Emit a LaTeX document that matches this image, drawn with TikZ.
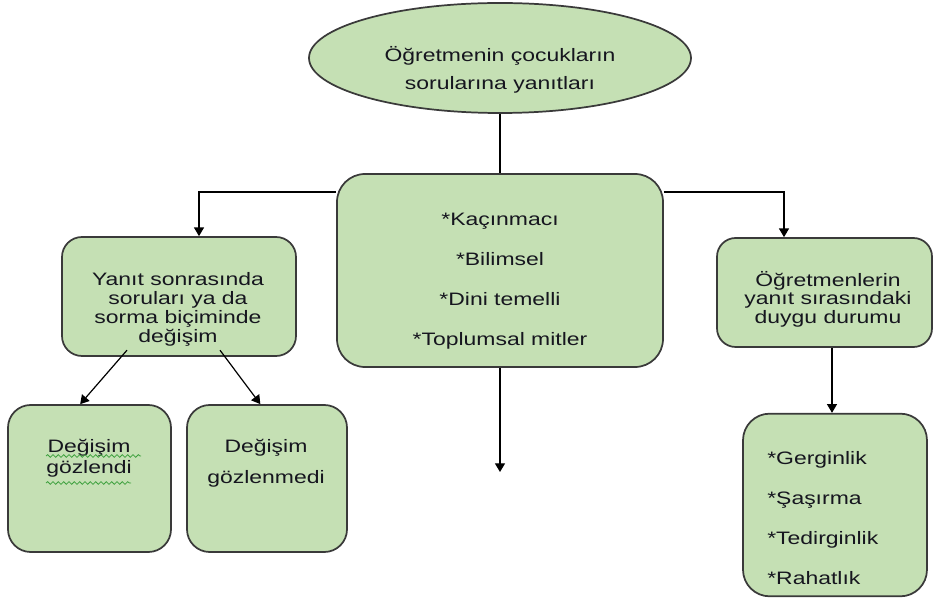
\documentclass[tikz,border=0pt]{standalone}
\usepackage{fontspec}
\setmainfont[FakeStretch=1.275]{Liberation Sans}
\usetikzlibrary{positioning, arrows.meta, shapes.geometric, decorations.pathmorphing}
\definecolor{boxgreen}{HTML}{C5E0B4}
\definecolor{edgegray}{HTML}{3A3A3A}
\definecolor{inkdark}{HTML}{16161F}
\definecolor{spellgreen}{HTML}{3DA03D}

\begin{document}
\begin{tikzpicture}[x=0.75pt, y=-0.75pt,
		greenbox/.style = {rectangle, rounded corners=#1, draw=edgegray,
			fill=boxgreen, line width=1.3pt},
		oval/.style = {ellipse, draw=edgegray, fill=boxgreen, line width=1.3pt},
		lbl/.style = {inner sep=0pt, align=center, text=inkdark,
			font=\fontsize{13.5}{#1}\selectfont},
		arr/.style = {-{Triangle[width=7.5pt,length=6.5pt]}, line width=0.9pt},
		squig/.style = {spellgreen, line width=0.6pt, decorate,
			decoration={snake, amplitude=1pt, segment length=4pt}}
                    ]
		\useasboundingbox (0,0) rectangle (933,598);

		% boxes
		\node(root) [oval, minimum width=286.5pt, minimum height=82.5pt] at (500,58) {};
		\node(mid) [greenbox=21pt, minimum width=244.5pt, minimum height=144.75pt] at (500,270.5) {};
		\node(left) [greenbox=15pt, minimum width=175.5pt, minimum height=89.25pt] at (179,296.5) {};
		\node(right) [greenbox=14pt, minimum width=161.25pt, minimum height=81.75pt] at (824.5,292.5) {};
		\node(seen) [greenbox=17pt, minimum width=122.25pt, minimum height=110.25pt] at (89.5,478.5) {};
		\node(unseen) [greenbox=17pt, minimum width=120pt, minimum height=110.25pt] at (267,478.5) {};
		\node(feel) [greenbox=20pt, minimum width=138pt, minimum height=137pt] at (835,505) {};

		% texts
		\node(roottxt) [lbl=21pt] at (500,70) {Öğretmenin çocukların\\sorularına yanıtları};
		\node(midtxt) [lbl=30pt] at (500,281) {*Kaçınmacı\\*Bilimsel\\*Dini temelli\\*Toplumsal mitler};
		\node(lefttxt) [lbl=14.25pt] at (178,309) {Yanıt sonrasında\\soruları ya da\\sorma biçiminde\\değişim};
		\node(righttxt) [lbl=13.9pt] at (828,299) {Öğretmenlerin\\yanıt sırasındaki\\duygu durumu};
		\node(seentxt) [lbl=15.75pt] at (89,458) {Değişim\\gözlendi};
		\node(unseentxt) [lbl=23.25pt] at (266,463) {Değişim\\gözlenmedi};
		\node(feeltxt) [lbl=30pt, align=left, anchor=west] at (767,518) {*Gerginlik\\*Şaşırma\\*Tedirginlik\\*Rahatlık};

		\draw[squig] (46,456) -- (141,456);
		\draw[squig] (46,483) -- (131,483);

		% connectors
		\coordinate(lturn) at (199,192);
		\coordinate(rturn) at (784,192);
		\coordinate(rdrop) at (832,380);
		\coordinate(midend) at (500,472);

		\draw[line width=0.9pt] (root.south) -- (mid.north);
		\draw[arr] (mid.west |- lturn) -| (left.north -| lturn);
		\draw[arr] (mid.east |- rturn) -| (right.north -| rturn);
		\draw[arr] ([xshift=-39pt, yshift=5pt]left.south) -- ([xshift=-7pt]seen.north);
		\draw[arr] ([xshift=30.75pt, yshift=5pt]left.south) -- ([xshift=-5pt]unseen.north);
		\draw[arr] (mid.south) -- (midend);
		\draw[arr] (right.south -| rdrop) -- (feel.north -| rdrop);
	\end{tikzpicture}
\end{document}
